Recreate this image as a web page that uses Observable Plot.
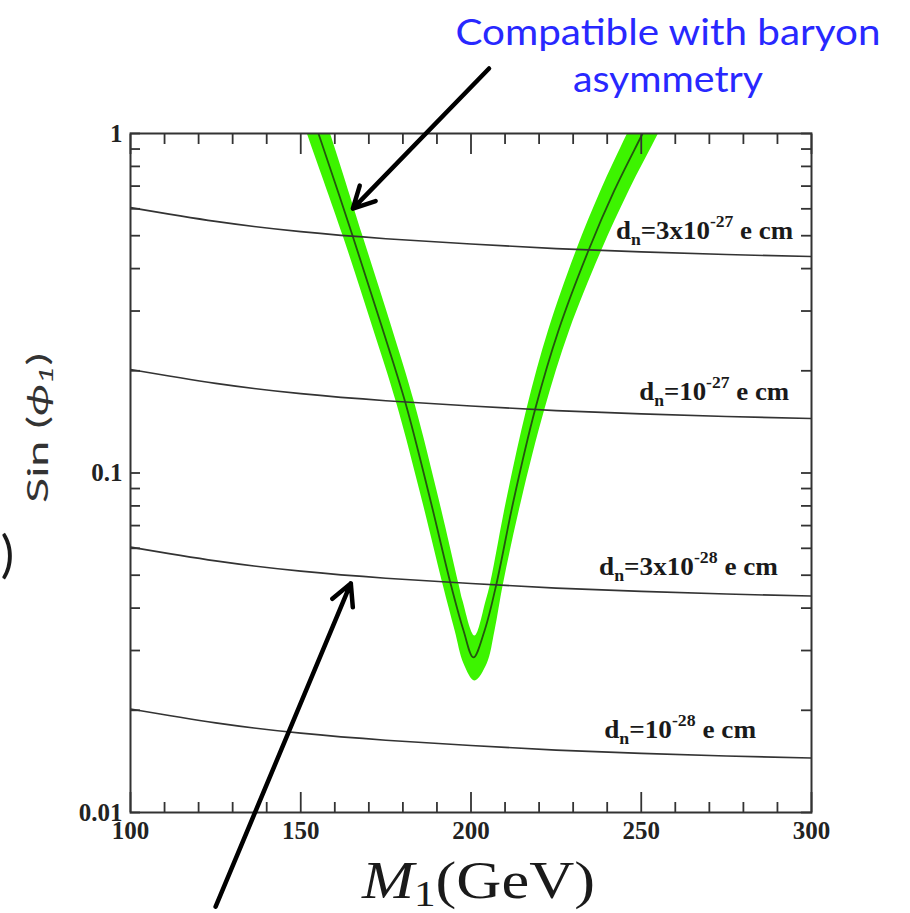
<!DOCTYPE html>
<html><head><meta charset="utf-8">
<script src="https://cdn.jsdelivr.net/npm/d3@7"></script>
<script src="https://cdn.jsdelivr.net/npm/@observablehq/plot@0.6"></script>
<style>
body{margin:0;background:#fff;}
#wrap{position:relative;width:910px;height:913px;overflow:hidden;background:#fff;}
#overlay{position:absolute;left:0;top:0;pointer-events:none;}
</style></head><body>
<div id="wrap"></div>
<script>
// ---- EDM contour lines: sin(phi1) vs M1 (GeV) ----
const massGrid = [100, 125, 150, 175, 200, 225, 250, 275, 300];
const edm3e27 = [0.605, 0.551, 0.514, 0.490, 0.4725, 0.458, 0.448, 0.440, 0.434];
const edm1e27 = [0.2017, 0.1837, 0.1713, 0.1633, 0.1575, 0.1527, 0.1493, 0.1467, 0.1447];
const edm3e28 = [0.0605, 0.0551, 0.0514, 0.0490, 0.04725, 0.0458, 0.0448, 0.0440, 0.0434];
const edm1e28 = [0.02017, 0.01837, 0.01713, 0.01633, 0.01575, 0.01527, 0.01493, 0.01467, 0.01447];
const edmMant = ["3x10", "10", "3x10", "10"];
const edmExp = ["-27", "-27", "-28", "-28"];
const edmLabelM = [242.6, 249.4, 237.6, 239.1];
const edmLabelV = [0.490, 0.1637, 0.0499, 0.01652];
const edmLabelLen = [177, 150, 179, 152];

// ---- band compatible with baryon asymmetry ----
const centerM = [151.2, 155.2, 165.2, 173.7, 180.8, 188.1, 194.0, 197.8, 200.7, 204.0, 207.5, 212.5, 218.9, 225.7, 234.5, 242.1, 250.4, 256.1];
const centerV = [1.303, 1.0, 0.5008, 0.2720, 0.1602, 0.0830, 0.04727, 0.03437, 0.02862, 0.03437, 0.04727, 0.0830, 0.1549, 0.2629, 0.4522, 0.6794, 1.0, 1.303];
const bandM = [
  147.9, 151.8, 162.3, 170.9, 178.1, 185.6, 191.6, 195.2, 197.8, 201.0,
  204.6, 206.9, 209.4, 214.7, 221.6, 228.8, 238.2, 246.3, 254.9, 260.6,
  251.5, 245.8, 238.0, 230.8, 222.6, 216.3, 210.3, 205.6, 204.3, 201.0,
  197.5, 196.3, 190.6, 183.4, 176.5, 168.1, 158.6, 154.6];
const bandV = [
  1.303, 1.0, 0.5008, 0.2720, 0.1602, 0.0830, 0.04727, 0.03437, 0.02748, 0.02448,
  0.02748, 0.03437, 0.04727, 0.0830, 0.1549, 0.2629, 0.4522, 0.6794, 1.0, 1.303,
  1.303, 1.0, 0.6794, 0.4522, 0.2629, 0.1549, 0.0830, 0.04727, 0.0421, 0.0332,
  0.0421, 0.04727, 0.0830, 0.1602, 0.2720, 0.5008, 1.0, 1.303];

// ---- axes ----
const xMajor = [100, 150, 200, 250, 300];
const xTickLabels = ["100", "150", "200", "250", "300"];
const xMinor = [110, 120, 130, 140, 160, 170, 180, 190, 210, 220, 230, 240, 260, 270, 280, 290];
const yMajor = [0.01, 0.1, 1];
const yTickLabels = ["0.01", "0.1", "1"];
const yMinor = [0.02, 0.03, 0.04, 0.05, 0.06, 0.07, 0.08, 0.09, 0.2, 0.3, 0.4, 0.5, 0.6, 0.7, 0.8, 0.9];

// ---- annotation arrows (tail -> head) ----
const arrowM1 = [205.3, 125.0];
const arrowV1 = [1.554, 0.00528];
const arrowM2 = [165.3, 164.7];
const arrowV2 = [0.601, 0.0473];

const edmLines = [edm3e27, edm1e27, edm3e28, edm1e28]
  .flatMap((arr, k) => arr.map((v, i) => ({m: massGrid[i], v, k})));
const edmLabels = edmMant.map((mant, i) => ({m: edmLabelM[i], v: edmLabelV[i], mant, exp: edmExp[i], len: edmLabelLen[i]}));
const center = centerM.map((m, i) => ({m, v: centerV[i]}));
const band = bandM.map((m, i) => ({m, v: bandV[i]}));
const arrows = arrowM1.map((m, i) => ({x1: m, y1: arrowV1[i], x2: arrowM2[i], y2: arrowV2[i]}));

const tickStyle = {stroke: "#333", strokeWidth: 1.8, label: null, tickFormat: () => ""};

const plot = Plot.plot({
  width: 910, height: 913,
  marginLeft: 130, marginRight: 99, marginTop: 133, marginBottom: 101,
  x: {domain: [100, 300]},
  y: {type: "log", domain: [0.01, 1]},
  style: {fontFamily: "Liberation Serif", fontSize: "22px", background: "white", color: "#222"},
  marks: [
    Plot.line(band, {x: "m", y: "v", fill: "#3df400", stroke: "none", curve: "catmull-rom", clip: true}),
    Plot.line(center, {x: "m", y: "v", stroke: "#1d2e12", strokeOpacity: 0.8, strokeWidth: 1.8, curve: "catmull-rom", clip: true}),
    Plot.line(edmLines, {x: "m", y: "v", z: "k", stroke: "#333", strokeWidth: 1.6, curve: "natural", clip: true}),
    Plot.frame({stroke: "#333", strokeWidth: 2}),
    Plot.axisX(xMinor, {anchor: "bottom", tickSize: -10, ...tickStyle}),
    Plot.axisX(xMajor, {anchor: "bottom", tickSize: -20, ...tickStyle}),
    Plot.axisX(xMinor, {anchor: "top", tickSize: -10, ...tickStyle}),
    Plot.axisX(xMajor, {anchor: "top", tickSize: -20, ...tickStyle}),
    Plot.axisY(yMinor, {anchor: "left", tickSize: -10, ...tickStyle}),
    Plot.axisY(yMajor, {anchor: "left", tickSize: -10, ...tickStyle}),
    Plot.axisY(yMinor, {anchor: "right", tickSize: -11, ...tickStyle}),
    Plot.axisY(yMajor, {anchor: "right", tickSize: -11, ...tickStyle}),
    Plot.axisX(xMajor, {anchor: "bottom", tickSize: 0, tickPadding: 9, label: null, fontWeight: "bold",
      fontSize: 25, tickFormat: d => xTickLabels[xMajor.indexOf(d)]}),
    Plot.axisY(yMajor, {anchor: "left", tickSize: 0, tickPadding: 8, label: null, fontWeight: "bold",
      fontSize: 25, tickFormat: d => yTickLabels[yMajor.indexOf(d)]}),
    Plot.text(edmLabels, {x: "m", y: "v", text: d => "d", textAnchor: "start", lineAnchor: "bottom",
      fontSize: 26, fill: "#1a1a1a"}),
    Plot.arrow(arrows, {x1: "x1", y1: "y1", x2: "x2", y2: "y2", stroke: "black", strokeWidth: 4.5,
      headLength: 8, headAngle: 55})
  ]
});

const wrap = document.getElementById("wrap");
wrap.appendChild(plot);

// rich text (subscripts / superscripts) for the EDM labels
const ns = "http://www.w3.org/2000/svg";
function tspan(parent, txt, attrs) {
  const s = document.createElementNS(ns, "tspan");
  for (const k in attrs) s.setAttribute(k, attrs[k]);
  s.textContent = txt;
  parent.appendChild(s);
}
const labelNodes = Array.from(plot.querySelectorAll("text")).filter(t => t.textContent === "d");
labelNodes.forEach((t, i) => {
  const d = edmLabels[i];
  while (t.firstChild) t.removeChild(t.firstChild);
  t.appendChild(document.createTextNode("d"));
  tspan(t, "n", {"font-size": 17, "font-weight": "bold", dy: 6});
  tspan(t, "=" + d.mant, {dy: -6});
  tspan(t, d.exp, {"font-size": 17, dy: -12});
  tspan(t, " e cm", {dy: 12});
  t.setAttribute("textLength", d.len);
  t.setAttribute("lengthAdjust", "spacingAndGlyphs");
  t.setAttribute("font-weight", "600");
});

// titles and axis labels
const ov = document.createElementNS(ns, "svg");
ov.setAttribute("id", "overlay");
ov.setAttribute("width", 910);
ov.setAttribute("height", 913);
ov.innerHTML = `
<text x="668" y="45" text-anchor="middle" font-family="Lato" font-size="37" fill="#2828ff" textLength="425" lengthAdjust="spacingAndGlyphs">Compatible with baryon</text>
<text x="668" y="92" text-anchor="middle" font-family="Lato" font-size="37" fill="#2828ff" textLength="190" lengthAdjust="spacingAndGlyphs">asymmetry</text>
<text transform="translate(48,428) rotate(-90)" text-anchor="middle" font-family="Lato" font-size="28" fill="#333" textLength="150" lengthAdjust="spacingAndGlyphs">Sin (<tspan font-style="italic">ϕ</tspan><tspan font-style="italic" font-size="19" dy="5">1</tspan><tspan dy="-5">)</tspan></text>
<text x="362" y="898" font-family="Liberation Serif" font-size="52" fill="#1a1a1a" textLength="233" lengthAdjust="spacingAndGlyphs"><tspan font-style="italic">M</tspan><tspan font-size="36" dy="8">1</tspan><tspan dy="-8">(GeV)</tspan></text>
<text x="14" y="572" text-anchor="end" font-family="Lato" font-size="50" fill="#1a1a1a">)</text>
`;
wrap.appendChild(ov);
</script>
</body></html>
